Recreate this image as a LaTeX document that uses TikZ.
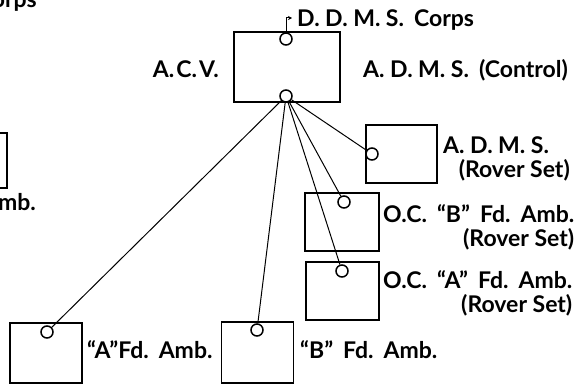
\documentclass[tikz,border=0pt]{standalone}
\usepackage{fontspec}
\setmainfont{Lato}
\usetikzlibrary{arrows.meta}

\newcommand\pk{\kern5.5pt}
\newcommand\wsp{\hspace{10pt}}

\tikzset{
  wset/.style={draw, line width=1.6pt, minimum width=72pt, minimum height=58pt, inner sep=0pt},
  jack/.style={draw, circle, line width=1.5pt, minimum size=12pt, inner sep=0pt, fill=white},
  wire/.style={line width=1pt},
  lbl/.style={font=\bfseries\fontsize{23}{24}\selectfont, inner sep=0pt, align=right},
}

\begin{document}
\begin{tikzpicture}[x=1pt,y=-1pt]
  \useasboundingbox (0,0) rectangle (583,385);
  % control vehicle
  \node[wset, minimum width=106pt, minimum height=70pt] (acv) at (287,67) {};
  \node[wset, minimum width=71pt] (rover) at (401.5,154) {};
  \node[wset, minimum width=74pt] (ocb) at (342,222) {};
  \node[wset, minimum width=73pt] (oca) at (342.5,291) {};
  \node[wset, minimum height=60pt] (aamb) at (46,353) {};
  \node[wset, minimum width=72pt, minimum height=61pt] (bamb) at (257.5,352.5) {};
  \node[wset, minimum height=55pt] (cut) at (-29,160.5) {};
  % sockets
  \node[jack] (acvin) at (286,39) {};
  \node[jack] (acvout) at (286,96) {};
  \node[jack] (roverin) at (372,154) {};
  \node[jack] (ocbin) at (344,202) {};
  \node[jack] (ocain) at (342,271) {};
  \node[jack] (aambin) at (47,332) {};
  \node[jack] (bambin) at (257,330) {};
  % links
  \foreach \t in {roverin,ocbin,ocain,aambin,bambin}
    \draw[wire] (acvout) -- (\t);
  \coordinate (feed) at (292,18);
  \draw[wire, -{Stealth[length=4pt,width=4pt]}] (acvin) |- (feed);
  % labels
  \node[lbl, anchor=west] (ddms) at (297,20) {D.\pk D.\pk M.\pk S.\wsp Corps};
  \node[lbl, anchor=east] (acvlbl) at (219,69) {A.\kern2pt C.\kern2pt V.};
  \node[lbl, anchor=west] (ctrl) at (363,70) {A.\pk D.\pk M.\pk S.\wsp(Control)};
  \node[lbl, anchor=west] (roverlbl) at (443,145) {A.\pk D.\pk M.\pk S.};
  \node[lbl, anchor=east] (roverset) at (570,170) {(Rover Set)};
  \node[lbl, anchor=west] (ocblbl) at (383,227) {O.C.\wsp“B”\wsp Fd.\wsp Amb.\\(Rover Set)};
  \node[lbl, anchor=west] (ocalbl) at (383,293) {O.C.\wsp“A”\wsp Fd.\wsp Amb.\\(Rover Set)};
  \node[lbl, anchor=west] (aamblbl) at (87,350) {“A”Fd.\wsp Amb.};
  \node[lbl, anchor=west] (bamblbl) at (300,350) {“B”\wsp Fd.\wsp Amb.};
  \node[lbl, anchor=base east] (corps) at (37,8) {Corps};
  \node[lbl, anchor=base east] (cutlbl) at (36,210) {Amb.};
\end{tikzpicture}
\end{document}
